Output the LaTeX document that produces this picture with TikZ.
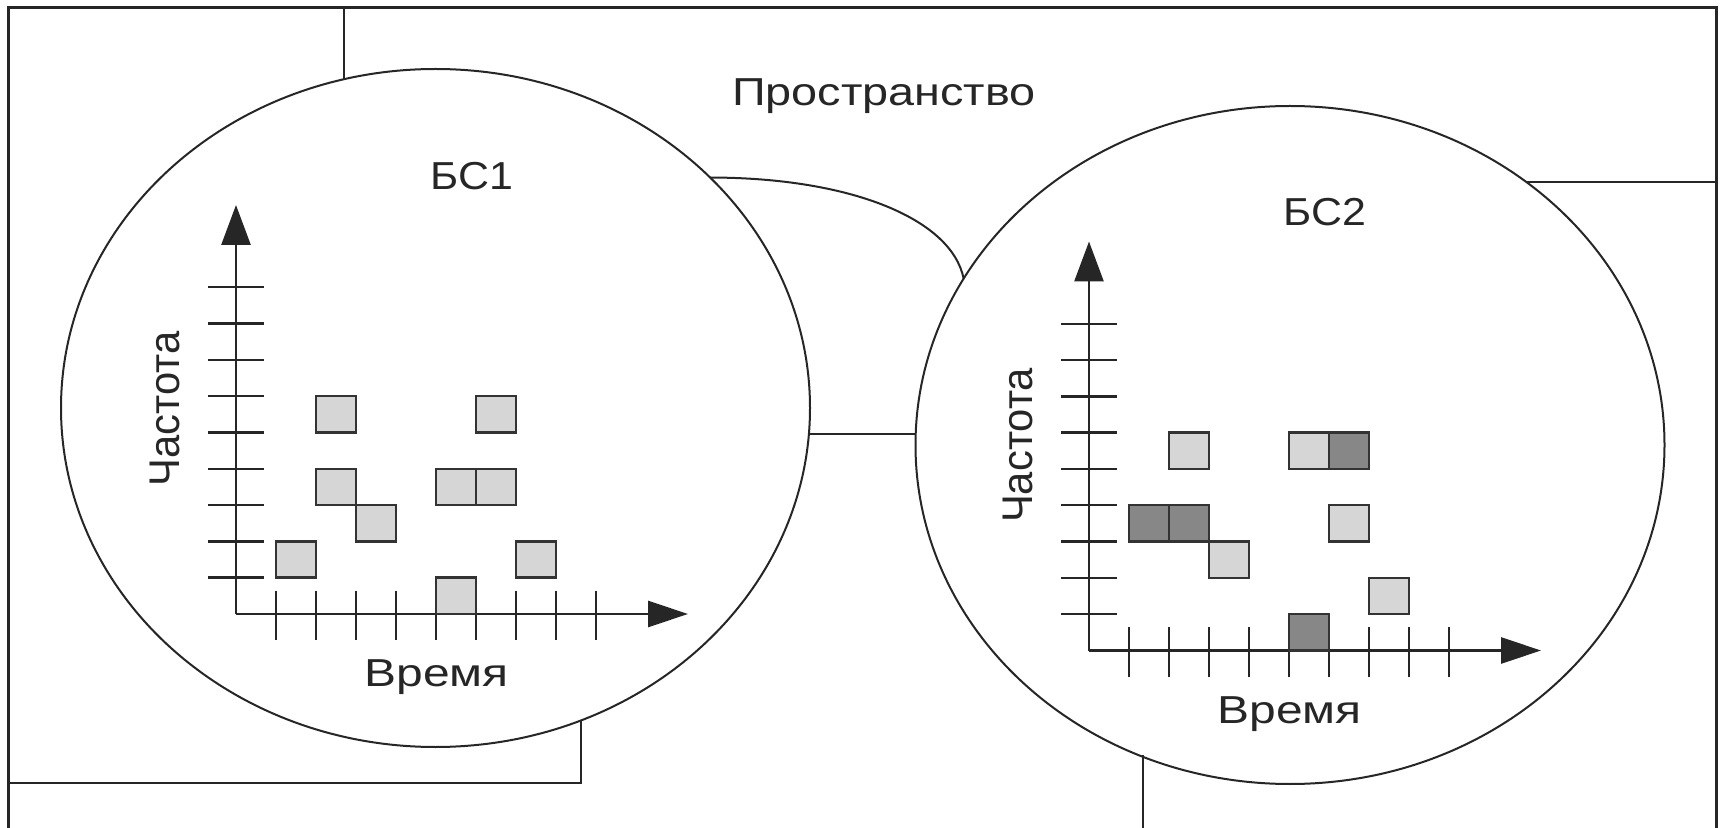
\documentclass[tikz,border=0pt]{standalone}
\usepackage{fontspec}
\setmainfont{Liberation Sans}
\usetikzlibrary{shapes.geometric,arrows.meta}

\newcommand\chartaxes{%
  \draw[axis,-{Triangle[length=20pt,width=14.5pt]}] (236,614) -- (236,205);
  \draw[axis,-{Triangle[length=20pt,width=13pt]}] (236,614) -- (688,614);
  \foreach \k in {1,...,9} {
    \draw[tickln] (208,{614-36.3*\k}) -- (264,{614-36.3*\k});
    \draw[tickln] ({236+40*\k},590.7) -- ({236+40*\k},640);
  }%
}
\newcommand\cellsq[3]{%
  \draw[#1] ({236+40*#2},{614-36.3*#3}) rectangle ({276+40*#2},{614-36.3*(#3+1)});%
}

\begin{document}
\begin{tikzpicture}[x=0.5pt,y=-0.5pt,
  frame/.style={draw=black!85, line width=1.5pt},
  cellzone/.style={ellipse, draw=black!85, line width=1pt, minimum width=374.5pt, minimum height=339pt, inner sep=0pt, outer sep=0pt},
  link/.style={draw=black!85, line width=1pt},
  axis/.style={draw=black!85, line width=1.4pt},
  tickln/.style={draw=black!85, line width=1.2pt},
  lightsq/.style={draw=black!80, line width=1.2pt, fill=black!16},
  darksq/.style={draw=black!80, line width=1.2pt, fill=black!47},
  lbl/.style={font=\fontsize{19.5}{23}\selectfont, text=black!85, inner sep=0pt}
]
\useasboundingbox (0,0) rectangle (1725,828);

% frame
\coordinate (fbl) at (8,828);
\coordinate (ftl) at (8,8);
\coordinate (ftr) at (1716,8);
\coordinate (fbr) at (1716,828);
\draw[frame] (fbl) -- (ftl) -- (ftr) -- (fbr);

% cells
\node[cellzone] (bs1) at (435.5,408) {};
\node[cellzone] (bs2) at (1290,445) {};

% region borders
\coordinate (topv) at (343.6,8);
\draw[link] (topv) -- (topv |- bs1.105.62);
\draw[link] (bs1.40.53) .. controls +(140,0) and +(-12,-60) .. (bs2.153);
\draw[link] (bs1.356.18) -- (bs1.356.18 -| bs2.west);
\coordinate (rgt) at (1716,179.3);
\draw[link] (bs2.48.8) -- (bs2.48.8 -| rgt);
\coordinate (bl) at (8,783);
\draw[link] (bl) -- (bl -| bs1.295.5) -- (bs1.295.5);
\coordinate (bbot) at (1143,828);
\draw[link] (bbot) -- (bbot |- bs2.244.76);

% labels
\node[lbl, anchor=base] (space) at (884,105.7) {\scalebox{1.2}[1]{Пространство}};

% chart 1
\node[lbl, anchor=base] (name1) at (471.7,189.3) {\scalebox{1.1}[1]{БС1}};
\node[lbl, rotate=90] (freq1) at (165,409) {\scalebox{1.07}[1.1]{Частота}};
\node[lbl, anchor=base] (time1) at (436.7,686.7) {\scalebox{1.23}[1]{Время}};
\chartaxes
\cellsq{lightsq}{1}{1}
\cellsq{lightsq}{2}{5}
\cellsq{lightsq}{2}{3}
\cellsq{lightsq}{3}{2}
\cellsq{lightsq}{5}{3}
\cellsq{lightsq}{6}{3}
\cellsq{lightsq}{6}{5}
\cellsq{lightsq}{5}{0}
\cellsq{lightsq}{7}{1}

% chart 2
\begin{scope}[shift={(853,36.5)}]
\node[lbl, anchor=base] (name2) at (471.7,189.3) {\scalebox{1.1}[1]{БС2}};
\node[lbl, rotate=90] (freq2) at (165,409) {\scalebox{1.07}[1.1]{Частота}};
\node[lbl, anchor=base] (time2) at (436.7,686.7) {\scalebox{1.23}[1]{Время}};
\chartaxes
\cellsq{lightsq}{2}{5}
\cellsq{lightsq}{5}{5}
\cellsq{darksq}{6}{5}
\cellsq{darksq}{1}{3}
\cellsq{darksq}{2}{3}
\cellsq{lightsq}{3}{2}
\cellsq{lightsq}{6}{3}
\cellsq{lightsq}{7}{1}
\cellsq{darksq}{5}{0}
\end{scope}
\end{tikzpicture}
\end{document}
